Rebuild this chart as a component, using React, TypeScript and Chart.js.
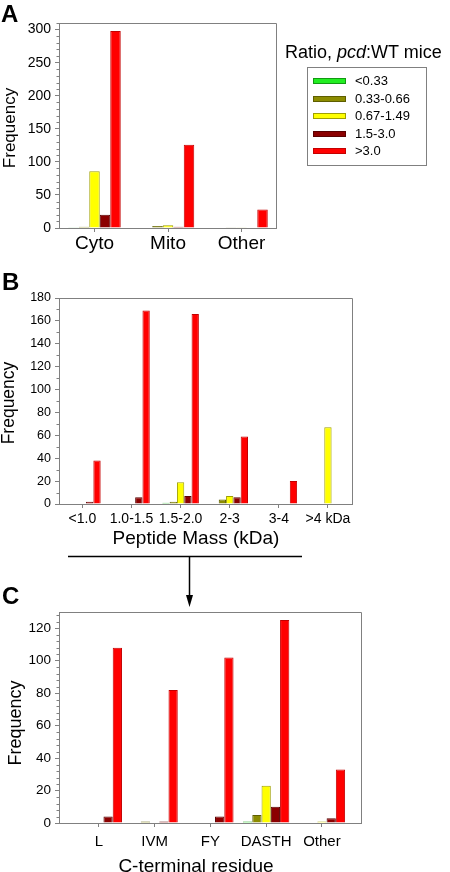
import React, { useEffect, useRef } from "react";
import { Chart, registerables } from "chart.js";

Chart.register(...registerables);
Chart.defaults.font.family = "'Liberation Sans', Arial, sans-serif";
Chart.defaults.color = "#000";

// ---- shared series (ratio pcd:WT) ----
const seriesLabels = ["<0.33", "0.33-0.66", "0.67-1.49", "1.5-3.0", ">3.0"];
const seriesColors = ["#22ee22", "#8c8c00", "#ffff00", "#8b0000", "#ff0000"];
const seriesBorders = ["#129a12", "#5e5e00", "#a0a000", "#5a0000", "#c40000"];

// ---- Panel A: subcellular location ----
const locationCategories = ["Cyto", "Mito", "Other"];
const locLt033 = [1, 0, 0];
const loc033to066 = [2, 3, 1];
const loc067to149 = [86, 4, 1];
const loc15to30 = [20, 2, 0];
const locGt30 = [298, 126, 28];
const locationYTicks = [0, 50, 100, 150, 200, 250, 300];

// ---- Panel B: peptide mass ----
const massCategories = ["<1.0", "1.0-1.5", "1.5-2.0", "2-3", "3-4", ">4 kDa"];
const massLt033 = [0, 0, 1, 0, 0, 0];
const mass033to066 = [0, 0, 2, 4, 0, 0];
const mass067to149 = [0, 0, 19, 7, 0, 67];
const mass15to30 = [2, 6, 7, 6, 0, 0];
const massGt30 = [38, 169, 166, 59, 20, 0];
const massYTicks = [0, 20, 40, 60, 80, 100, 120, 140, 160, 180];

// ---- Panel C: C-terminal residue ----
const residueCategories = ["L", "IVM", "FY", "DASTH", "Other"];
const resLt033 = [0, 0, 0, 1, 0];
const res033to066 = [0, 1, 0, 5, 0];
const res067to149 = [0, 0, 0, 23, 1];
const res15to30 = [4, 1, 4, 10, 3];
const resGt30 = [108, 82, 102, 125, 33];
const residueYTicks = [0, 20, 40, 60, 80, 100, 120];

const AXIS = "#808080";
const W = 450;
const FONT = "'Liberation Sans', Arial, sans-serif";

type PanelProps = {
  categories: string[];
  series: number[][];
  yTicks: number[];
  yMax: number;
  minorStep: number;
  xMin: number;
  xMax: number;
  catPct: number;
  canvasTop: number;
  canvasHeight: number;
  area: { left: number; right: number; top: number; bottom: number };
  yFont: number;
  xFont: number;
  xPad: number;
};

function BarPanel(p: PanelProps) {
  const ref = useRef<HTMLCanvasElement>(null);
  useEffect(() => {
    const canvas = ref.current!;
    const datasets = p.series.map((vals, k) => ({
      label: seriesLabels[k],
      data: vals.map((v, i) => ({ x: i, y: v })),
      backgroundColor: seriesColors[k],
      borderColor: seriesBorders[k],
      borderWidth: 1,
      categoryPercentage: p.catPct,
      barPercentage: 1,
    }));
    const framePlugin = {
      id: "frame",
      beforeDatasetsDraw(chart: any) {
        const { left, right, top, bottom } = chart.chartArea;
        const ctx = chart.ctx;
        ctx.save();
        ctx.strokeStyle = AXIS;
        ctx.lineWidth = 1;
        ctx.beginPath();
        ctx.moveTo(Math.round(left), Math.round(top) + 0.5);
        ctx.lineTo(Math.round(right) + 0.5, Math.round(top) + 0.5);
        ctx.lineTo(Math.round(right) + 0.5, Math.round(bottom));
        ctx.stroke();
        ctx.restore();
      },
      afterDraw(chart: any) {
        const ys = chart.scales.y;
        const left = Math.round(chart.chartArea.left);
        const ctx = chart.ctx;
        ctx.save();
        ctx.strokeStyle = AXIS;
        ctx.lineWidth = 1;
        ctx.beginPath();
        for (let v = 0; v <= p.yMax; v += p.minorStep) {
          if (p.yTicks.includes(v)) continue;
          const py = Math.round(ys.getPixelForValue(v)) + 0.5;
          ctx.moveTo(left - 2.5, py);
          ctx.lineTo(left, py);
        }
        ctx.stroke();
        ctx.restore();
      },
    };
    const chart = new Chart(canvas, {
      type: "bar",
      data: { datasets: datasets as any },
      plugins: [framePlugin],
      options: {
        responsive: false,
        animation: false,
        devicePixelRatio: 1,
        layout: {
          padding: {
            left: 0,
            right: W - p.area.right,
            top: p.area.top - p.canvasTop,
            bottom: 0,
          },
        },
        plugins: {
          legend: { display: false },
          tooltip: { enabled: false },
        },
        scales: {
          x: {
            type: "linear",
            min: p.xMin,
            max: p.xMax,
            offset: false,
            afterBuildTicks: (s: any) => {
              s.ticks = p.categories.map((_, i) => ({ value: i }));
            },
            afterFit: (s: any) => {
              s.height = p.canvasTop + p.canvasHeight - p.area.bottom;
            },
            ticks: {
              autoSkip: false,
              maxRotation: 0,
              padding: p.xPad,
              font: { size: p.xFont, family: FONT },
              color: "#000",
              callback: (v: any) => p.categories[Math.round(Number(v))] ?? "",
            },
            grid: {
              display: true,
              drawOnChartArea: false,
              drawTicks: true,
              tickLength: 4,
              color: AXIS,
              offset: false,
            },
            border: { display: true, color: AXIS },
          },
          y: {
            type: "linear",
            min: 0,
            max: p.yMax,
            afterBuildTicks: (s: any) => {
              s.ticks = p.yTicks.map((v) => ({ value: v }));
            },
            afterFit: (s: any) => {
              s.width = p.area.left;
            },
            ticks: {
              padding: 4,
              font: { size: p.yFont, family: FONT },
              color: "#000",
            },
            grid: {
              display: true,
              drawOnChartArea: false,
              drawTicks: true,
              tickLength: 4,
              color: AXIS,
            },
            border: { display: true, color: AXIS },
          },
        },
      } as any,
    });
    return () => chart.destroy();
  }, []);
  return (
    <canvas
      ref={ref}
      width={W}
      height={p.canvasHeight}
      style={{ position: "absolute", left: 0, top: p.canvasTop, width: W, height: p.canvasHeight }}
    />
  );
}

const abs = (extra: React.CSSProperties): React.CSSProperties => ({
  position: "absolute",
  fontFamily: FONT,
  color: "#000",
  whiteSpace: "nowrap",
  ...extra,
});

function Centered({ x, y, size, rotate, children, weight }: any) {
  return (
    <div
      style={abs({
        left: x,
        top: y,
        fontSize: size,
        lineHeight: 1,
        fontWeight: weight ?? "normal",
        transform: `translate(-50%, -50%)${rotate ? " rotate(-90deg)" : ""}`,
      })}
    >
      {children}
    </div>
  );
}

function Letter({ x, top, ch }: { x: number; top: number; ch: string }) {
  return (
    <div style={abs({ left: x, top, fontSize: 24, lineHeight: "24px", fontWeight: "bold" })}>{ch}</div>
  );
}

const legendRowsY = [81, 98.5, 116, 133.5, 151];

export default function App() {
  return (
    <div style={{ position: "absolute", left: 0, top: 0, width: W, height: 872, background: "#fff", overflow: "hidden" }}>
      <BarPanel
        categories={locationCategories}
        series={[locLt033, loc033to066, loc067to149, loc15to30, locGt30]}
        yTicks={locationYTicks}
        yMax={310}
        minorStep={10}
        xMin={-0.483}
        xMax={2.469}
        catPct={0.714}
        canvasTop={0}
        canvasHeight={262}
        area={{ left: 59, right: 276, top: 23, bottom: 228 }}
        yFont={14}
        xFont={19}
        xPad={0}
      />
      <BarPanel
        categories={massCategories}
        series={[massLt033, mass033to066, mass067to149, mass15to30, massGt30]}
        yTicks={massYTicks}
        yMax={180}
        minorStep={10}
        xMin={-0.476}
        xMax={5.49}
        catPct={0.745}
        canvasTop={268}
        canvasHeight={280}
        area={{ left: 59, right: 352, top: 298, bottom: 504 }}
        yFont={12.5}
        xFont={14}
        xPad={3}
      />
      <BarPanel
        categories={residueCategories}
        series={[resLt033, res033to066, res067to149, res15to30, resGt30]}
        yTicks={residueYTicks}
        yMax={130}
        minorStep={4}
        xMin={-0.714}
        xMax={4.7}
        catPct={0.83}
        canvasTop={590}
        canvasHeight={282}
        area={{ left: 59, right: 361, top: 612, bottom: 823 }}
        yFont={13.5}
        xFont={15}
        xPad={6}
      />

      <Letter x={1} top={2} ch="A" />
      <Letter x={2} top={270} ch="B" />
      <Letter x={2} top={584} ch="C" />

      <Centered x={9} y={128} size={17} rotate>Frequency</Centered>
      <Centered x={9} y={403} size={17.5} rotate>Frequency</Centered>
      <Centered x={15} y={723} size={18} rotate>Frequency</Centered>

      <Centered x={196} y={537} size={19}>Peptide Mass (kDa)</Centered>
      <Centered x={196} y={865} size={19}>C-terminal residue</Centered>

      <div style={abs({ left: 285, top: 41, fontSize: 18, lineHeight: "22px" })}>
        Ratio, <i>pcd</i>:WT mice
      </div>
      <div
        style={{
          position: "absolute",
          left: 307,
          top: 67,
          width: 118,
          height: 97,
          border: `1px solid ${AXIS}`,
        }}
      />
      {seriesLabels.map((lab, k) => (
        <React.Fragment key={lab}>
          <div
            style={{
              position: "absolute",
              left: 313,
              top: legendRowsY[k] - 3,
              width: 31,
              height: 4,
              background: seriesColors[k],
              border: `1px solid ${seriesBorders[k]}`,
            }}
          />
          <div style={abs({ left: 355, top: legendRowsY[k] - 8, fontSize: 13, lineHeight: "16px" })}>{lab}</div>
        </React.Fragment>
      ))}

      <svg width={W} height={872} style={{ position: "absolute", left: 0, top: 0, pointerEvents: "none" }}>
        <line x1={68} y1={556.5} x2={302} y2={556.5} stroke="#000" strokeWidth={1.5} />
        <line x1={189.5} y1={556.5} x2={189.5} y2={598} stroke="#000" strokeWidth={1.5} />
        <polygon points="186,595 193,595 189.5,607" fill="#000" />
      </svg>
    </div>
  );
}
